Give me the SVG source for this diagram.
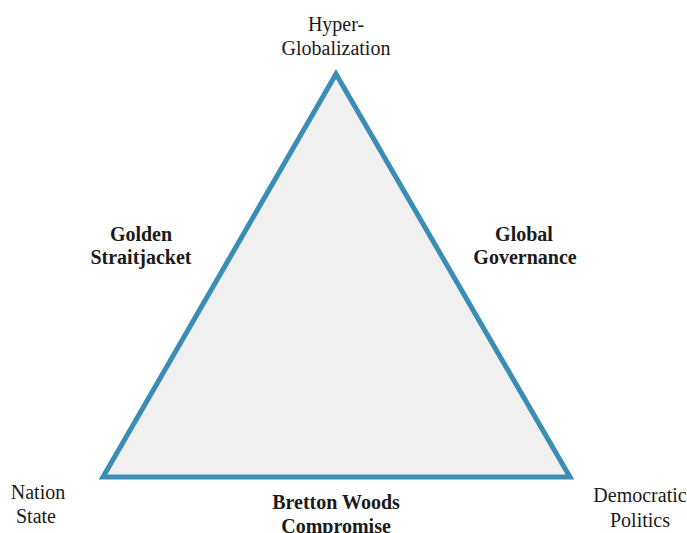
<svg xmlns="http://www.w3.org/2000/svg" width="687" height="533" viewBox="0 0 687 533">
<style>
text{font-family:"Liberation Serif","Times New Roman",serif;font-size:20px;fill:#1a1a1a;text-anchor:middle}
.b{font-weight:bold}
</style>
<rect width="687" height="533" fill="#ffffff"/>
<g id="connectors">
<polygon points="336,74 103,477 570,477" fill="#f0f0f0" stroke="#3a8db4" stroke-width="5" stroke-linejoin="miter"/>
</g>
<g id="hyper"><text x="336" y="31">Hyper-</text><text x="336" y="55">Globalization</text></g>
<g id="nation"><text x="38" y="499">Nation</text><text x="36" y="523">State</text></g>
<g id="democratic"><text x="640" y="502">Democratic</text><text x="640" y="527">Politics</text></g>
<g id="golden"><text class="b" x="141" y="241">Golden</text><text class="b" x="141" y="264">Straitjacket</text></g>
<g id="global"><text class="b" x="524" y="241">Global</text><text class="b" x="525" y="264">Governance</text></g>
<g id="bretton"><text class="b" x="336" y="509">Bretton Woods</text><text class="b" x="336" y="533">Compromise</text></g>
</svg>
